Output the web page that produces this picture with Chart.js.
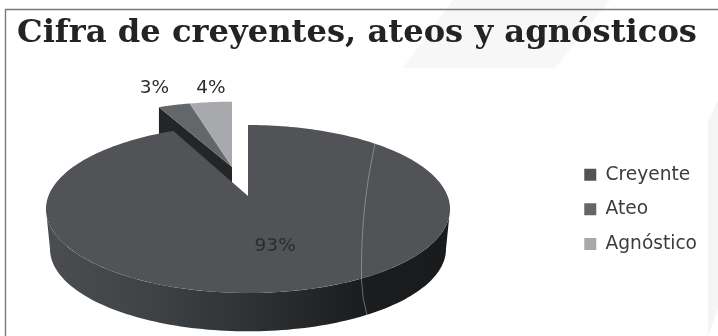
<!DOCTYPE html>
<html>
<head>
<meta charset="utf-8">
<title>Cifra de creyentes, ateos y agnósticos</title>
<script src="https://cdn.jsdelivr.net/npm/chart.js@4/dist/chart.umd.min.js"></script>
<style>
    html, body { margin: 0; padding: 0; background: #fff; }
    canvas { display: block; }
</style>
</head>
<body>
<canvas id="myChartFaith" width="718" height="336"></canvas>
<script>
var categories = ['Creyente', 'Ateo', 'Agnóstico'];
var percentages = [93, 3, 4];
var sliceColors = ['#525357', '#63676a', '#a7a9ad'];

var chartTitle = 'Cifra de creyentes, ateos y agnósticos';

// how the flat pie lies on the page, tilted back with some perspective
var pieX = 248, pieY = 196;
var pieWide = 199.6, pieUp = 51.65, pieTilt = -0.1548;
var pieDepth = 40, pieBottomScale = 0.98;

// slices pulled out of the pie sit further back and look a bit smaller
var pulledOut = [false, true, true];
var pulledX = 232, pulledY = 167, pulledScaleX = 0.98, pulledScaleY = 0.92;

var labelRadius = [0.57, 1.28, 1.22];
var labelNudge = [[0, 0], [-6, -2], [4, -2]];

function project(cosA, sinA, radius, pulled) {
    var u = cosA * radius, v = sinA * radius;
    var w = 1 + pieTilt * v;
    var dx = pieWide * u / w;
    var dy = (pieUp * v + pieY) / w - pieY;
    if (pulled) {
        return { x: pulledX + dx * pulledScaleX, y: pulledY + dy * pulledScaleY };
    }
    return { x: pieX + dx, y: pieY + dy };
}

// same point on the underside of the disc
function lower(p) {
    var cy = pieY + 13;
    return { x: pieX + (p.x - pieX) * pieBottomScale, y: cy + (p.y - cy) * pieBottomScale + pieDepth };
}

function arcPoints(from, to, pulled) {
    var pts = [];
    var steps = Math.max(6, Math.ceil((to - from) * 40));
    for (var i = 0; i <= steps; i++) {
        var a = from + (to - from) * i / steps;
        pts.push(project(Math.cos(a), Math.sin(a), 1, pulled));
    }
    return pts;
}

function tracePoints(ctx, pts) {
    pts.forEach(function (p) {
        ctx.lineTo(p.x, p.y);
    });
}

function drawTop(ctx, arc, color, pulled) {
    var centre = project(1, 0, 0, pulled);
    ctx.beginPath();
    ctx.moveTo(centre.x, centre.y);
    tracePoints(ctx, arcPoints(arc.startAngle, arc.endAngle, pulled));
    ctx.closePath();
    ctx.fillStyle = color;
    ctx.fill();
}

// only the front of the rim can be seen, from one widest point of the disc to the other
function drawRim(ctx, arc) {
    var from = Math.max(arc.startAngle, 0.155);
    var to = Math.min(arc.endAngle, Math.PI - 0.155);
    var top = arcPoints(from, to, false);
    var grad = ctx.createLinearGradient(46, 0, 452, 0);
    grad.addColorStop(0, '#4b4d50');
    grad.addColorStop(0.25, '#404346');
    grad.addColorStop(0.5, '#2f3234');
    grad.addColorStop(0.78, '#1b1c1e');
    grad.addColorStop(1, '#191a1b');
    ctx.beginPath();
    tracePoints(ctx, top);
    tracePoints(ctx, top.map(lower).reverse());
    ctx.closePath();
    ctx.fillStyle = grad;
    ctx.fill();
}

// the cut face of the pulled out wedge that looks towards the viewer
function drawCutFace(ctx, arc) {
    var a = project(Math.cos(arc.startAngle), Math.sin(arc.startAngle), 1, true);
    var b = project(1, 0, 0, true);
    ctx.beginPath();
    ctx.moveTo(a.x, a.y);
    ctx.lineTo(b.x, b.y);
    ctx.lineTo(b.x, b.y + pieDepth);
    ctx.lineTo(a.x, a.y + pieDepth);
    ctx.closePath();
    ctx.fillStyle = '#232527';
    ctx.fill();
}

var pageBackground = {
    id: 'pageBackground',
    beforeDraw: function (chart) {
        var ctx = chart.ctx;
        ctx.save();
        ctx.fillStyle = '#fff';
        ctx.fillRect(0, 0, chart.width, chart.height);

        ctx.fillStyle = '#f7f7f8';
        ctx.beginPath();
        ctx.moveTo(453, 0);
        ctx.lineTo(610, 0);
        ctx.lineTo(555, 68);
        ctx.lineTo(403, 68);
        ctx.closePath();
        ctx.fill();

        ctx.fillStyle = '#f4f5f6';
        ctx.beginPath();
        ctx.moveTo(718, 100);
        ctx.lineTo(708, 122);
        ctx.lineTo(708, 336);
        ctx.lineTo(718, 308);
        ctx.closePath();
        ctx.fill();

        ctx.strokeStyle = '#77797b';
        ctx.lineWidth = 1.4;
        ctx.beginPath();
        ctx.moveTo(5.5, 336);
        ctx.lineTo(5.5, 9.5);
        ctx.lineTo(718, 9.5);
        ctx.stroke();
        ctx.restore();
    }
};

// Chart.js only draws flat pies, so the arcs it worked out are drawn here as a disc
var tiltedPie = {
    id: 'tiltedPie',
    beforeDatasetsDraw: function (chart) {
        var ctx = chart.ctx;
        var arcs = chart.getDatasetMeta(0).data;
        ctx.save();

        drawCutFace(ctx, arcs[1]);
        arcs.forEach(function (arc, i) {
            if (pulledOut[i]) { drawTop(ctx, arc, sliceColors[i], true); }
        });

        drawRim(ctx, arcs[0]);
        drawTop(ctx, arcs[0], sliceColors[0], false);

        // thin crease across the disc and its rim
        ctx.strokeStyle = 'rgba(205,206,210,0.55)';
        ctx.lineWidth = 0.8;
        ctx.beginPath();
        ctx.moveTo(375, 144);
        ctx.bezierCurveTo(366, 185, 361, 225, 361.5, 280);
        ctx.quadraticCurveTo(362, 298, 367, 315);
        ctx.stroke();

        ctx.font = '18.5px "DejaVu Sans"';
        ctx.textAlign = 'center';
        ctx.textBaseline = 'middle';
        ctx.fillStyle = '#2b2c2e';
        arcs.forEach(function (arc, i) {
            var mid = (arc.startAngle + arc.endAngle) / 2;
            var p = project(Math.cos(mid), Math.sin(mid), labelRadius[i], pulledOut[i]);
            ctx.fillText(percentages[i] + '%', p.x + labelNudge[i][0], p.y + labelNudge[i][1]);
        });

        ctx.restore();
        return false;
    }
};

var ctx = document.getElementById('myChartFaith');
var myChart = new Chart(ctx, {
    type: 'pie',
    data: {
        labels: categories,
        datasets: [{
            data: percentages,
            backgroundColor: sliceColors,
            borderWidth: 0
        }]
    },
    options: {
        responsive: false,
        animation: false,
        devicePixelRatio: 1,
        layout: {
            padding: { left: 7, right: 11 }
        },
        plugins: {
            tooltip: { enabled: false },
            title: {
                display: true,
                text: chartTitle,
                color: '#232325',
                font: { family: '"DejaVu Serif"', size: 32.2, weight: 'bold' },
                padding: { top: 14, bottom: 30 }
            },
            legend: {
                position: 'right',
                fullSize: false,
                labels: {
                    boxWidth: 12,
                    boxHeight: 12,
                    padding: 16,
                    color: '#3b3c3f',
                    font: { family: '"DejaVu Sans"', size: 18.6 }
                }
            }
        }
    },
    plugins: [pageBackground, tiltedPie]
});
</script>
</body>
</html>
